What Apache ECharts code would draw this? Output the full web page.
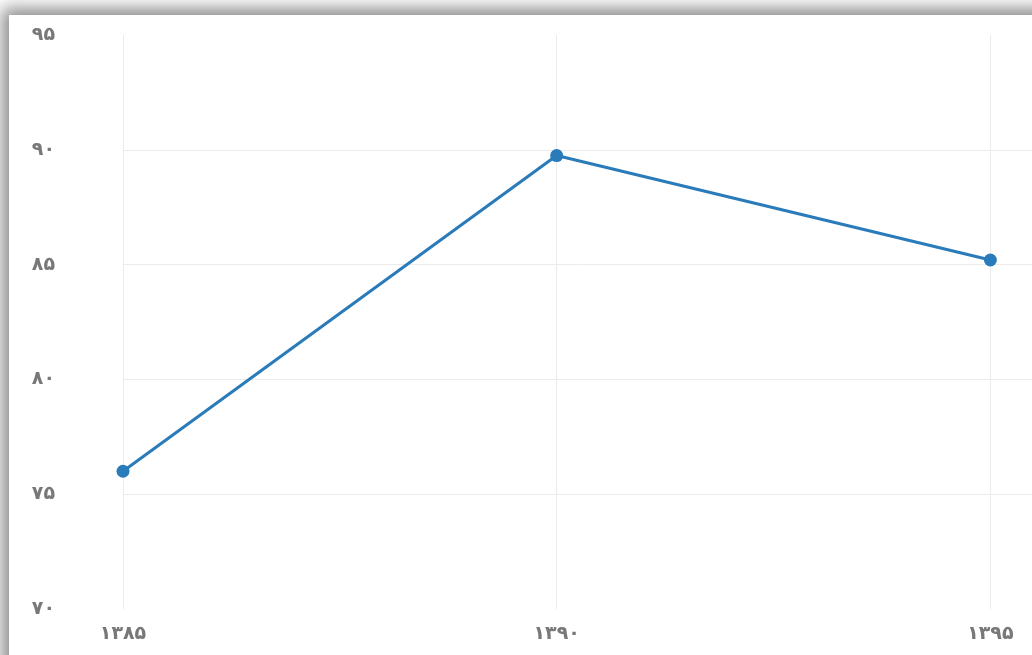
<!DOCTYPE html>
<html>
<head>
<meta charset="utf-8">
<script src="https://cdn.jsdelivr.net/npm/echarts@6/dist/echarts.min.js"></script>
<style>
  html, body { margin: 0; padding: 0; width: 1032px; height: 655px; overflow: hidden; background: #ffffff; }
  #card {
    position: absolute; left: 9px; top: 15px; width: 1100px; height: 700px;
    background: #ffffff;
    box-shadow: -3px -3px 16px 4px rgba(0,0,0,0.45);
  }
  #chart { position: absolute; left: 0; top: 0; width: 1032px; height: 655px; }
</style>
</head>
<body>
<div id="card"></div>
<div id="chart"></div>
<script>
// Years (Persian calendar) and the plotted values
const years = [1385, 1390, 1395];
const yearLabels = ['۱۳۸۵', '۱۳۹۰', '۱۳۹۵'];
const values = [76.0, 89.75, 85.2];
const yTicks = ['۷۰', '۷۵', '۸۰', '۸۵', '۹۰', '۹۵'];

const grid = '#ebebeb';
const labelFont = { color: '#787878', fontSize: 19, fontWeight: 'bold', fontFamily: 'DejaVu Sans' };
const chart = echarts.init(document.getElementById('chart'), null, { renderer: 'canvas' });
chart.setOption({
  animation: false,
  backgroundColor: 'transparent',
  grid: { left: 123, right: 0, top: 35, bottom: 46, containLabel: false },
  xAxis: {
    type: 'value',
    min: 1385, max: 1395.48, interval: 5,
    axisLine: { show: false },
    axisTick: { show: false },
    axisLabel: Object.assign({}, labelFont, {
      margin: 16,
      showMaxLabel: false,
      formatter: v => {
        const i = years.indexOf(Math.round(v));
        return i >= 0 && Math.abs(v - years[i]) < 0.01 ? yearLabels[i] : '';
      }
    }),
    splitLine: { show: true, lineStyle: { color: grid, width: 1 } }
  },
  yAxis: {
    type: 'value',
    min: 70, max: 95, interval: 5,
    axisLine: { show: false },
    axisTick: { show: false },
    axisLabel: Object.assign({}, labelFont, {
      margin: 68,
      formatter: v => yTicks[Math.round((v - 70) / 5)]
    }),
    splitLine: {
      show: true,
      lineStyle: { color: ['transparent', grid, grid, grid, grid, 'transparent'], width: 1 }
    }
  },
  series: [{
    type: 'line',
    data: years.map((y, i) => [y, values[i]]),
    symbol: 'circle',
    symbolSize: 13,
    lineStyle: { color: '#2a7bba', width: 3 },
    itemStyle: { color: '#2a7bba' }
  }]
});
</script>
</body>
</html>
